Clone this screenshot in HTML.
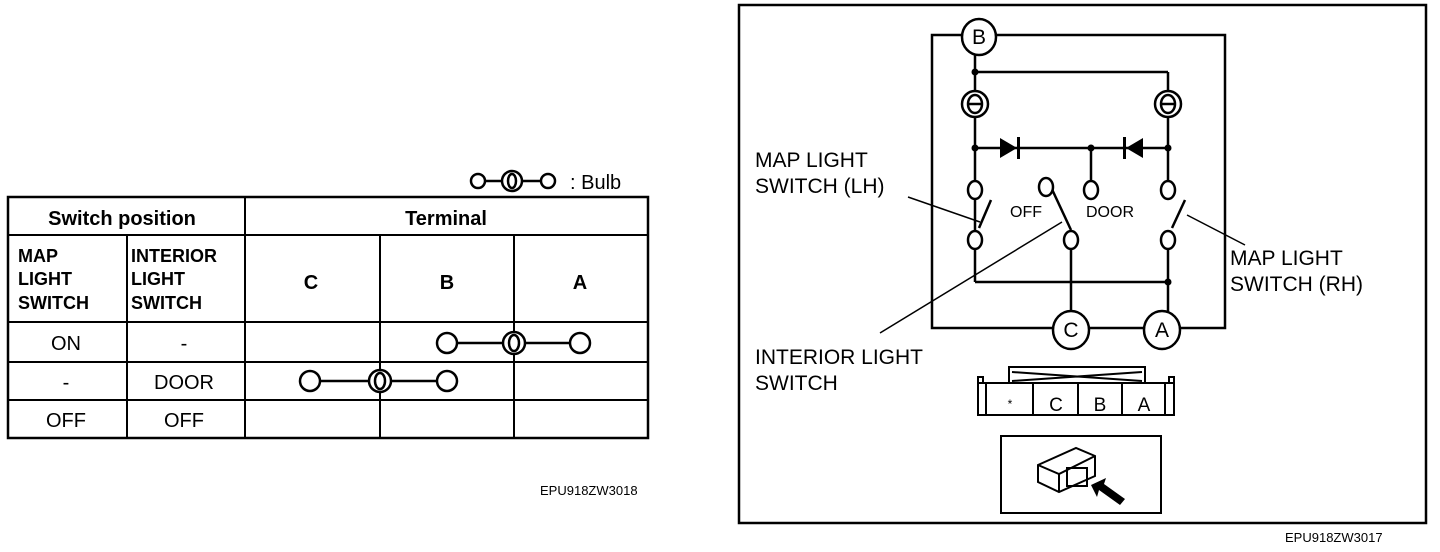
<!DOCTYPE html>
<html><head><style>body{margin:0;background:#fff}svg{display:block}</style></head><body>
<svg width="1440" height="552" xmlns="http://www.w3.org/2000/svg" font-family="Liberation Sans, Arial, sans-serif" fill="none" stroke="#000" stroke-width="2">
<g>
<rect x="8" y="197" width="640" height="241" stroke-width="2.5"/>
<line x1="8" y1="235" x2="648" y2="235"/>
<line x1="8" y1="322" x2="648" y2="322"/>
<line x1="8" y1="362" x2="648" y2="362"/>
<line x1="8" y1="400" x2="648" y2="400"/>
<line x1="245" y1="197" x2="245" y2="438"/>
<line x1="127" y1="235" x2="127" y2="438"/>
<line x1="380" y1="235" x2="380" y2="438"/>
<line x1="514" y1="235" x2="514" y2="438"/>
<g fill="#000" stroke="none" font-size="20">
<text x="122" y="225" text-anchor="middle" font-weight="bold">Switch position</text>
<text x="446" y="225" text-anchor="middle" font-weight="bold">Terminal</text>
<text x="18" y="262" font-weight="bold" font-size="18">MAP</text>
<text x="18" y="285" font-weight="bold" font-size="18">LIGHT</text>
<text x="18" y="309" font-weight="bold" font-size="18">SWITCH</text>
<text x="131" y="262" font-weight="bold" font-size="18">INTERIOR</text>
<text x="131" y="285" font-weight="bold" font-size="18">LIGHT</text>
<text x="131" y="309" font-weight="bold" font-size="18">SWITCH</text>
<text x="311" y="289" text-anchor="middle" font-weight="bold">C</text>
<text x="447" y="289" text-anchor="middle" font-weight="bold">B</text>
<text x="580" y="289" text-anchor="middle" font-weight="bold">A</text>
<text x="66" y="350" text-anchor="middle">ON</text>
<text x="184" y="350" text-anchor="middle">-</text>
<text x="66" y="389" text-anchor="middle">-</text>
<text x="184" y="389" text-anchor="middle">DOOR</text>
<text x="66" y="427" text-anchor="middle">OFF</text>
<text x="184" y="427" text-anchor="middle">OFF</text>
<text x="570" y="189" font-size="20">: Bulb</text>
<text x="540" y="495" font-size="13">EPU918ZW3018</text>
</g>
<g stroke-width="2.5">
<line x1="457" y1="343" x2="570" y2="343"/>
<circle cx="447" cy="343" r="10" fill="#fff"/><circle cx="580" cy="343" r="10" fill="#fff"/>
<circle cx="514" cy="343" r="11" fill="#fff"/><ellipse cx="514" cy="343" rx="5" ry="8"/>
<line x1="320" y1="381" x2="437" y2="381"/>
<circle cx="310" cy="381" r="10" fill="#fff"/><circle cx="447" cy="381" r="10" fill="#fff"/>
<circle cx="380" cy="381" r="11" fill="#fff"/><ellipse cx="380" cy="381" rx="5" ry="8"/>
<line x1="478" y1="181" x2="545" y2="181"/>
<circle cx="478" cy="181" r="7" fill="#fff"/><circle cx="548" cy="181" r="7" fill="#fff"/>
<circle cx="512" cy="181" r="10" fill="#fff"/><ellipse cx="512" cy="181" rx="4" ry="7"/>
</g>
</g>
<rect x="739" y="5" width="687" height="518" stroke-width="2.5"/>
<rect x="932" y="35" width="293" height="293" stroke-width="2.5"/>
<g stroke-width="2.5">
<line x1="975" y1="54" x2="975" y2="282"/>
<line x1="975" y1="72" x2="1168" y2="72"/>
<line x1="1168" y1="72" x2="1168" y2="180"/>
<line x1="975" y1="148" x2="1168" y2="148"/>
<line x1="1091" y1="148" x2="1091" y2="182"/>
<line x1="975" y1="282" x2="1168" y2="282"/>
<line x1="1168" y1="250" x2="1168" y2="313"/>
<line x1="1071" y1="250" x2="1071" y2="313"/>
<line x1="979" y1="228" x2="991" y2="200"/>
<line x1="1071" y1="230" x2="1050" y2="185"/>
<line x1="1172" y1="228" x2="1185" y2="200"/>
</g>
<g fill="#000" stroke="none">
<polygon points="1000,138 1000,158 1017,148"/><rect x="1017" y="137" width="3" height="22"/>
<polygon points="1143,138 1143,158 1126,148"/><rect x="1123" y="137" width="3" height="22"/>
<circle cx="975" cy="72" r="3.5"/><circle cx="975" cy="148" r="3.5"/><circle cx="1091" cy="148" r="3.5"/><circle cx="1168" cy="148" r="3.5"/><circle cx="1168" cy="282" r="3.5"/>
</g>
<g stroke-width="2.5" fill="#fff">
<circle cx="975" cy="104" r="13"/><circle cx="1168" cy="104" r="13"/>
<ellipse cx="975" cy="104" rx="7" ry="9"/><ellipse cx="1168" cy="104" rx="7" ry="9"/>
<line x1="969" y1="104" x2="981" y2="104"/><line x1="1162" y1="104" x2="1174" y2="104"/>
<ellipse cx="975" cy="190" rx="7" ry="9"/><ellipse cx="1046" cy="187" rx="7" ry="9"/><ellipse cx="1091" cy="190" rx="7" ry="9"/><ellipse cx="1168" cy="190" rx="7" ry="9"/>
<ellipse cx="975" cy="240" rx="7" ry="9"/><ellipse cx="1071" cy="240" rx="7" ry="9"/><ellipse cx="1168" cy="240" rx="7" ry="9"/>
<ellipse cx="979" cy="37" rx="17" ry="18"/>
<ellipse cx="1071" cy="330" rx="18" ry="19"/>
<ellipse cx="1162" cy="330" rx="18" ry="19"/>
</g>
<g stroke-width="1.5">
<line x1="908" y1="197" x2="980" y2="222"/>
<line x1="880" y1="333" x2="1062" y2="222"/>
<line x1="1187" y1="215" x2="1245" y2="245"/>
</g>
<g fill="#000" stroke="none" font-size="21">
<text x="979" y="44" text-anchor="middle">B</text>
<text x="1071" y="337" text-anchor="middle">C</text>
<text x="1162" y="337" text-anchor="middle">A</text>
<text x="755" y="167">MAP LIGHT</text>
<text x="755" y="193">SWITCH (LH)</text>
<text x="1230" y="265">MAP LIGHT</text>
<text x="1230" y="291">SWITCH (RH)</text>
<text x="755" y="364">INTERIOR LIGHT</text>
<text x="755" y="390">SWITCH</text>
<text x="1010" y="217" font-size="16">OFF</text>
<text x="1086" y="217" font-size="16">DOOR</text>
<text x="1285" y="542" font-size="13">EPU918ZW3017</text>
<text x="1010" y="408" font-size="12" text-anchor="middle">*</text>
<text x="1056" y="411" text-anchor="middle" font-size="19">C</text>
<text x="1100" y="411" text-anchor="middle" font-size="19">B</text>
<text x="1144" y="411" text-anchor="middle" font-size="19">A</text>
</g>
<g stroke-width="2">
<rect x="1009" y="367" width="136" height="16"/>
<path d="M1012 372 L1142 381 M1012 381 L1142 372"/>
<rect x="978" y="377" width="5" height="6"/><rect x="1169" y="377" width="5" height="6"/>
<rect x="978" y="383" width="196" height="32"/>
<line x1="986" y1="383" x2="986" y2="415"/><line x1="1165" y1="383" x2="1165" y2="415"/>
<line x1="1033" y1="383" x2="1033" y2="415"/><line x1="1078" y1="383" x2="1078" y2="415"/><line x1="1122" y1="383" x2="1122" y2="415"/>
<rect x="1001" y="436" width="160" height="77"/>
<path d="M1038 465 L1076 448 L1095 456 L1095 476 L1059 492 L1038 482 Z"/>
<path d="M1038 465 L1059 474 L1095 456 M1059 474 L1059 492"/>
<rect x="1067" y="468" width="20" height="18"/>
</g>
<polygon points="1091,485 1106,478 1104,484 1125,499 1120,505 1099,490 1097,497" fill="#000" stroke="none"/>
</svg>
</body></html>
